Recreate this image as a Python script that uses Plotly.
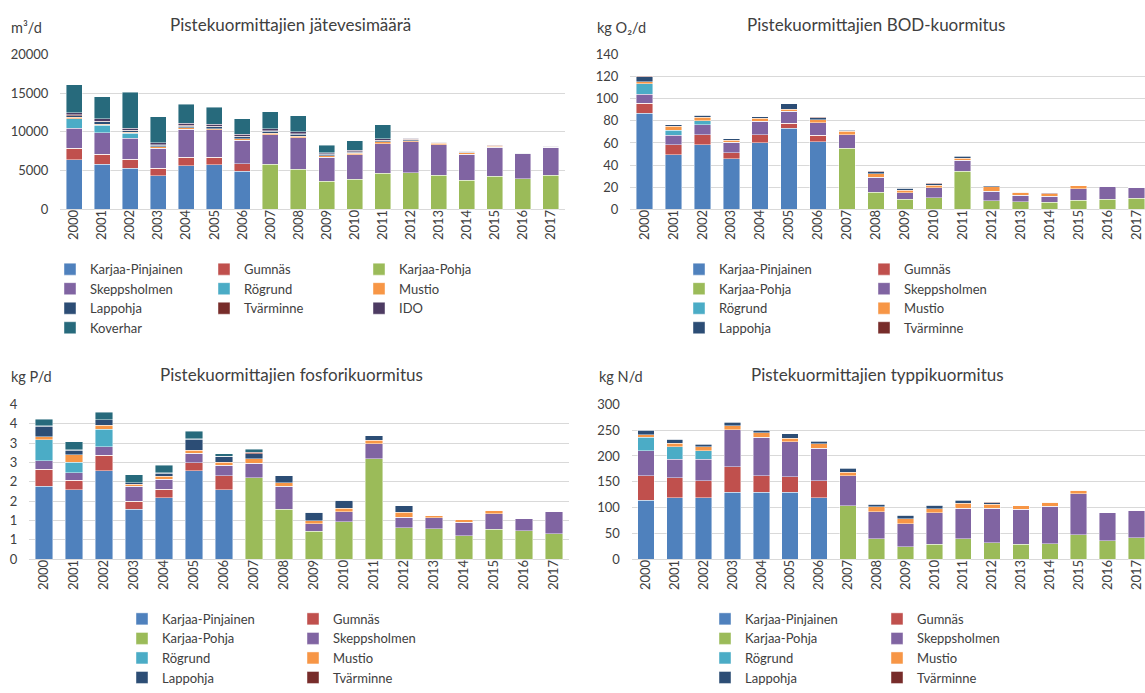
import plotly.graph_objects as go

# ---------------- data ----------------
years = ["2000", "2001", "2002", "2003", "2004", "2005", "2006", "2007", "2008",
         "2009", "2010", "2011", "2012", "2013", "2014", "2015", "2016", "2017"]

series_names = ["Karjaa-Pinjainen", "Gumnäs", "Karjaa-Pohja", "Skeppsholmen", "Rögrund",
                "Mustio", "Lappohja", "Tvärminne", "IDO", "Koverhar"]

# Jätevesimäärä m3/d
ww_karjaa_pinjainen = [6400, 5850, 5300, 4350, 5650, 5750, 4900, 0, 0, 0, 0, 0, 0, 0, 0, 0, 0, 0]
ww_gumnas = [1500, 1250, 1150, 950, 1100, 1000, 1000, 0, 0, 0, 0, 0, 0, 0, 0, 0, 0, 0]
ww_karjaa_pohja = [0, 0, 0, 0, 0, 0, 0, 5850, 5150, 3650, 3900, 4650, 4750, 4400, 3750, 4250, 3950, 4400]
ww_skeppsholmen = [2600, 2800, 2700, 2600, 3600, 3500, 3000, 3800, 4100, 3100, 3150, 3850, 3950, 3950, 3350, 3750, 3200, 3600]
ww_rogrund = [1200, 950, 650, 0, 0, 0, 0, 0, 0, 0, 0, 0, 0, 0, 0, 0, 0, 0]
ww_mustio = [170, 170, 170, 170, 170, 170, 200, 200, 200, 200, 170, 200, 170, 170, 200, 170, 0, 0]
ww_lappohja = [250, 280, 200, 220, 240, 240, 260, 240, 220, 160, 170, 170, 140, 80, 90, 70, 70, 50]
ww_tvarminne = [80, 90, 70, 80, 80, 80, 90, 80, 80, 50, 60, 60, 50, 20, 30, 20, 20, 20]
ww_ido = [270, 300, 230, 250, 270, 270, 280, 270, 250, 170, 190, 190, 150, 70, 90, 80, 80, 60]
ww_koverhar = [3600, 2850, 4650, 3350, 2450, 2150, 2000, 2150, 2100, 950, 1200, 1800, 0, 0, 0, 0, 0, 0]

# BOD kg O2/d
bod_karjaa_pinjainen = [87, 49.5, 58.5, 45.5, 60, 73.5, 61, 0, 0, 0, 0, 0, 0, 0, 0, 0, 0, 0]
bod_gumnas = [9, 9, 9, 5.5, 7.5, 4.5, 6, 0, 0, 0, 0, 0, 0, 0, 0, 0, 0, 0]
bod_karjaa_pohja = [0, 0, 0, 0, 0, 0, 0, 55, 15.5, 9, 10.5, 34.5, 7.7, 6.8, 6.2, 8, 9, 9.8]
bod_skeppsholmen = [8, 8.5, 9, 9.5, 12, 10.5, 11.5, 12.5, 13.5, 6, 9, 10, 8.5, 6, 5.5, 10.5, 12, 10]
bod_rogrund = [9.5, 4.5, 3.5, 0, 0, 0, 0, 0, 0, 0, 0, 0, 0, 0, 0, 0, 0, 0]
bod_mustio = [1.8, 3.5, 3.5, 1.8, 2.7, 1.8, 2.4, 3, 3, 2, 2, 1.8, 4, 2.4, 2.2, 2.7, 0, 0]
bod_lappohja = [4.7, 1.5, 1.5, 1.5, 1.4, 5, 2, 1.2, 2, 1.8, 1.7, 1.7, 0.9, 0.3, 0.3, 0, 0, 0]
bod_tvarminne = [0.3, 0.2, 0.2, 0.2, 0.2, 0.2, 0.2, 0.2, 0.2, 0.2, 0.2, 0.2, 0.2, 0.3, 0.3, 0, 0, 0]

# Fosfori kg P/d
p_karjaa_pinjainen = [1.89, 1.79, 2.29, 1.29, 1.59, 2.28, 1.79, 0, 0, 0, 0, 0, 0, 0, 0, 0, 0, 0]
p_gumnas = [0.44, 0.25, 0.40, 0.21, 0.22, 0.21, 0.37, 0, 0, 0, 0, 0, 0, 0, 0, 0, 0, 0]
p_karjaa_pohja = [0, 0, 0, 0, 0, 0, 0, 2.10, 1.29, 0.72, 0.97, 2.60, 0.82, 0.79, 0.61, 0.77, 0.74, 0.66]
p_skeppsholmen = [0.22, 0.19, 0.22, 0.38, 0.25, 0.25, 0.27, 0.38, 0.59, 0.20, 0.26, 0.38, 0.26, 0.28, 0.34, 0.41, 0.30, 0.57]
p_rogrund = [0.53, 0.28, 0.45, 0, 0, 0, 0, 0, 0, 0, 0, 0, 0, 0, 0, 0, 0, 0]
p_mustio = [0.08, 0.19, 0.10, 0.06, 0.08, 0.08, 0.08, 0.11, 0.09, 0.07, 0.09, 0.09, 0.14, 0.06, 0.07, 0.08, 0, 0]
p_lappohja = [0.27, 0.12, 0.14, 0.04, 0.08, 0.28, 0.15, 0.14, 0.18, 0.23, 0.20, 0.12, 0.16, 0, 0, 0, 0, 0]
p_tvarminne = [0.02, 0.01, 0, 0, 0.01, 0.01, 0, 0.03, 0, 0, 0, 0, 0, 0, 0, 0, 0, 0]
p_koverhar = [0.16, 0.21, 0.20, 0.20, 0.20, 0.19, 0.07, 0.08, 0, 0, 0, 0, 0, 0, 0, 0, 0, 0]
p_tick_vals = [0, 0.5, 1, 1.5, 2, 2.5, 3, 3.5, 4]
p_tick_text = ["0", "1", "1", "2", "2", "3", "3", "4", "4"]

# Typpi kg N/d
n_karjaa_pinjainen = [114, 119, 119, 130, 130, 130, 119, 0, 0, 0, 0, 0, 0, 0, 0, 0, 0, 0]
n_gumnas = [48, 38.5, 33.5, 49.5, 32, 30, 33.5, 0, 0, 0, 0, 0, 0, 0, 0, 0, 0, 0]
n_karjaa_pohja = [0, 0, 0, 0, 0, 0, 0, 104, 40, 24, 29, 40, 32, 29, 30, 47, 36, 42]
n_skeppsholmen = [48, 36, 41, 71, 74.5, 68, 62.5, 57.5, 52, 45, 61, 58.5, 67, 68, 73, 79.5, 54, 52.5]
n_rogrund = [26.5, 24, 16.5, 0, 0, 0, 0, 0, 0, 0, 0, 0, 0, 0, 0, 0, 0, 0]
n_mustio = [5, 7, 8, 8, 8, 6.5, 9, 7, 9.5, 9, 8, 9.5, 8, 7, 7.5, 7, 0, 0]
n_lappohja = [8.5, 7.5, 5, 7, 5.5, 8.5, 5, 8, 5, 7, 6.5, 6.5, 2.5, 0, 0, 0, 0, 0]
n_tvarminne = [0.5, 0.5, 0.5, 0.5, 0.5, 0.5, 0.5, 0.5, 0.5, 0.5, 0.5, 0.5, 0.5, 0, 0, 0, 0, 0]

# ---------------- styling ----------------
colors = {
    "Karjaa-Pinjainen": "#4F81BD", "Gumnäs": "#C0504D", "Karjaa-Pohja": "#9BBB59",
    "Skeppsholmen": "#8064A2", "Rögrund": "#4BACC6", "Mustio": "#F79646",
    "Lappohja": "#2C4D75", "Tvärminne": "#772C2A", "IDO": "#4D3B62", "Koverhar": "#276A7C",
}

W, H = 1145, 693
FONT = "Lato, 'Open Sans', sans-serif"
TXT = "#404040"
GRID = "#D9D9D9"


def fx(p):
    return p / W


def fy(p):
    return 1 - p / H


charts = [
    dict(xa="x", ya="y", data={
        "Karjaa-Pinjainen": ww_karjaa_pinjainen, "Gumnäs": ww_gumnas, "Karjaa-Pohja": ww_karjaa_pohja,
        "Skeppsholmen": ww_skeppsholmen, "Rögrund": ww_rogrund, "Mustio": ww_mustio,
        "Lappohja": ww_lappohja, "Tvärminne": ww_tvarminne, "IDO": ww_ido, "Koverhar": ww_koverhar},
        legend_grid=[["Karjaa-Pinjainen", "Gumnäs", "Karjaa-Pohja"],
                     ["Skeppsholmen", "Rögrund", "Mustio"],
                     ["Lappohja", "Tvärminne", "IDO"],
                     ["Koverhar"]],
        col_x=[92, 246, 401], row_y=266),
    dict(xa="x2", ya="y2", data={
        "Karjaa-Pinjainen": bod_karjaa_pinjainen, "Gumnäs": bod_gumnas, "Karjaa-Pohja": bod_karjaa_pohja,
        "Skeppsholmen": bod_skeppsholmen, "Rögrund": bod_rogrund, "Mustio": bod_mustio,
        "Lappohja": bod_lappohja, "Tvärminne": bod_tvarminne},
        legend_grid=[["Karjaa-Pinjainen", "Gumnäs"], ["Karjaa-Pohja", "Skeppsholmen"],
                     ["Rögrund", "Mustio"], ["Lappohja", "Tvärminne"]],
        col_x=[721, 906], row_y=266),
    dict(xa="x3", ya="y3", data={
        "Karjaa-Pinjainen": p_karjaa_pinjainen, "Gumnäs": p_gumnas, "Karjaa-Pohja": p_karjaa_pohja,
        "Skeppsholmen": p_skeppsholmen, "Rögrund": p_rogrund, "Mustio": p_mustio,
        "Lappohja": p_lappohja, "Tvärminne": p_tvarminne, "Koverhar": p_koverhar},
        legend_grid=[["Karjaa-Pinjainen", "Gumnäs"], ["Karjaa-Pohja", "Skeppsholmen"],
                     ["Rögrund", "Mustio"], ["Lappohja", "Tvärminne"]],
        col_x=[164, 335], row_y=624),
    dict(xa="x4", ya="y4", data={
        "Karjaa-Pinjainen": n_karjaa_pinjainen, "Gumnäs": n_gumnas, "Karjaa-Pohja": n_karjaa_pohja,
        "Skeppsholmen": n_skeppsholmen, "Rögrund": n_rogrund, "Mustio": n_mustio,
        "Lappohja": n_lappohja, "Tvärminne": n_tvarminne},
        legend_grid=[["Karjaa-Pinjainen", "Gumnäs"], ["Karjaa-Pohja", "Skeppsholmen"],
                     ["Rögrund", "Mustio"], ["Lappohja", "Tvärminne"]],
        col_x=[747, 919], row_y=624),
]
ROW_STEP = 20

fig = go.Figure()
layout_legends = {}
legend_counter = 0
for ch in charts:
    # one legend box per legend entry, placed on the Excel-like grid
    entry_legend = {}
    for r, row in enumerate(ch["legend_grid"]):
        for c, name in enumerate(row):
            legend_counter += 1
            key = "legend" if legend_counter == 1 else f"legend{legend_counter}"
            entry_legend[name] = key
            layout_legends[key] = dict(
                x=fx(ch["col_x"][c] - 42), y=fy(ch["row_y"] + r * ROW_STEP - 14),
                xanchor="left", yanchor="top", orientation="v", traceorder="normal",
                bgcolor="rgba(0,0,0,0)", font=dict(family=FONT, size=13, color=TXT),
                borderwidth=0,
            )
    first_key = entry_legend[ch["legend_grid"][0][0]]
    for name in series_names:
        if name not in ch["data"]:
            continue
        leg_key = entry_legend.get(name)
        fig.add_trace(go.Bar(
            x=years, y=ch["data"][name], name=name,
            xaxis=ch["xa"], yaxis=ch["ya"],
            marker=dict(color=colors[name], line=dict(color="rgba(255,255,255,0.55)", width=0.8)),
            legend=leg_key if leg_key else first_key,
            showlegend=leg_key is not None,
            hovertemplate=name + " %{x}: %{y}<extra></extra>",
        ))

xcommon = dict(type="category", tickangle=-90, showgrid=False, zeroline=False,
               showline=False, ticks="", ticklabelstandoff=-3,
               tickfont=dict(family=FONT, size=13, color=TXT), fixedrange=True)
ycommon = dict(showgrid=True, gridcolor=GRID, gridwidth=1, zeroline=True, zerolinecolor=GRID,
               zerolinewidth=1, showline=False, ticks="outside", ticklen=8,
               tickcolor="rgba(0,0,0,0)", tickfont=dict(family=FONT, size=13, color=TXT),
               tickformat="d", fixedrange=True)

fig.update_layout(
    width=W, height=H, margin=dict(l=0, r=0, t=0, b=0),
    paper_bgcolor="white", plot_bgcolor="white",
    barmode="stack", bargap=0.43,
    font=dict(family=FONT, color=TXT),
    xaxis=dict(xcommon, domain=[fx(60), fx(565)], anchor="y"),
    yaxis=dict(ycommon, domain=[fy(206), fy(47.7)], range=[0, 20000], dtick=5000, anchor="x"),
    xaxis2=dict(xcommon, domain=[fx(630), 1.0], range=[-0.5, 17.3], anchor="y2"),
    yaxis2=dict(ycommon, domain=[fy(206), fy(47.7)], range=[0, 140], dtick=20, anchor="x2"),
    xaxis3=dict(xcommon, domain=[fx(29), fx(569)], anchor="y3"),
    yaxis3=dict(ycommon, domain=[fy(564.3), fy(405.7)], range=[0, 4], tickmode="array",
                tickvals=p_tick_vals, ticktext=p_tick_text, anchor="x3"),
    xaxis4=dict(xcommon, domain=[fx(631.5), 1.0], range=[-0.5, 17.3], anchor="y4"),
    yaxis4=dict(ycommon, domain=[fy(564.3), fy(405.7)], range=[0, 300], dtick=50, anchor="x4"),
    **layout_legends,
)

titles = [
    ("Pistekuormittajien jätevesimäärä", 290, 17),
    ("Pistekuormittajien BOD-kuormitus", 876, 17),
    ("Pistekuormittajien fosforikuormitus", 291, 375),
    ("Pistekuormittajien typpikuormitus", 877, 375),
]
for t, x, y in titles:
    fig.add_annotation(text=t, x=fx(x), y=fy(y), xref="paper", yref="paper",
                       xanchor="center", yanchor="middle", showarrow=False,
                       font=dict(family=FONT, size=17, color=TXT))

units = [("m³/d", 9, 20), ("kg O₂/d", 595, 20), ("kg P/d", 9, 377), ("kg N/d", 597, 377)]
for t, x, y in units:
    fig.add_annotation(text=t, x=fx(x), y=fy(y), xref="paper", yref="paper",
                       xanchor="left", yanchor="middle", showarrow=False,
                       font=dict(family=FONT, size=14.5, color=TXT))

fig.write_html("out.html", config={"displayModeBar": False},
               post_script="document.body.style.margin='0px';document.body.style.overflow='hidden';")
